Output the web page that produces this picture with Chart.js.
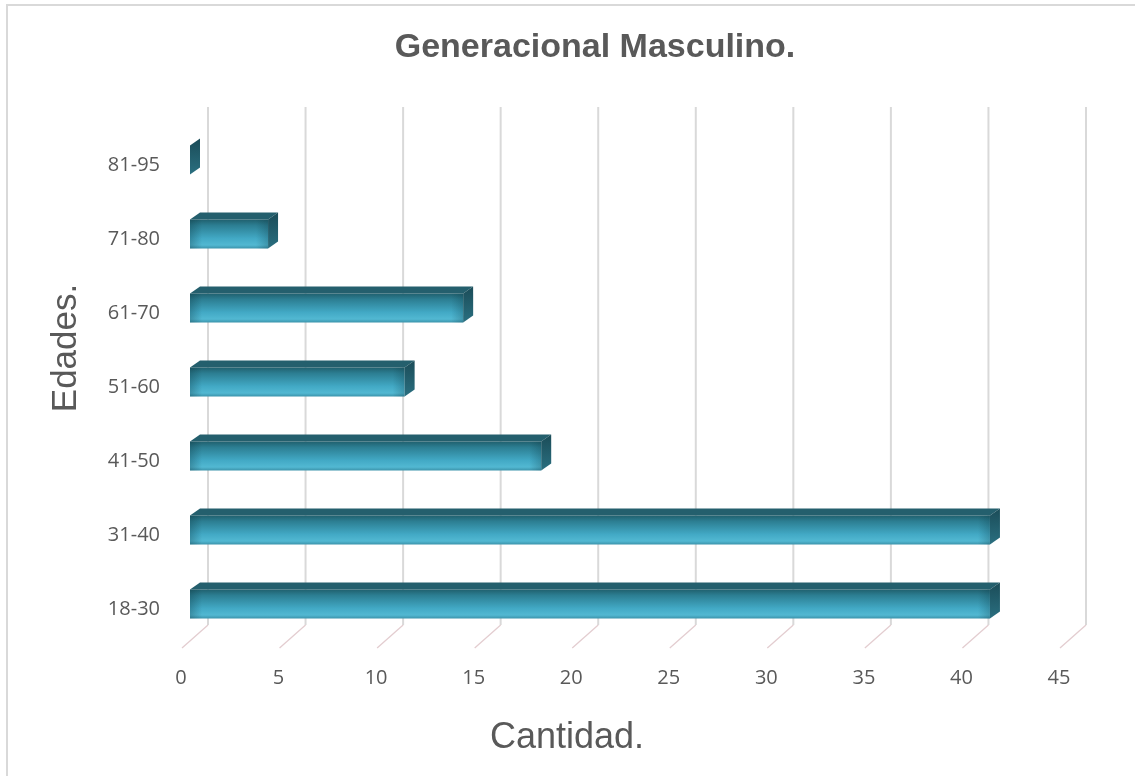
<!DOCTYPE html>
<html>
<head>
<meta charset="utf-8">
<script src="https://cdn.jsdelivr.net/npm/chart.js@4.4.0/dist/chart.umd.min.js"></script>
<style>
    body { margin: 0; background: #fff; overflow: hidden; }
    .marco { position: absolute; left: 6px; top: 4px; width: 1200px; height: 900px; border: 2px solid #d9d9d9; }
    .container { position: absolute; left: 0; top: 0; width: 1135px; height: 776px; }
</style>
</head>
<body>
<div class="marco"></div>
<div class="container"><canvas id="edadesChart"></canvas></div>
<script>
// Datos del gráfico
const edades = ['18-30', '31-40', '41-50', '51-60', '61-70', '71-80', '81-95'];
const cantidades = [41, 41, 18, 11, 14, 4, 0];
const ticksCantidad = [0, 5, 10, 15, 20, 25, 30, 35, 40, 45];

// Profundidad del efecto 3D
const PROF_X = 10, PROF_Y = 7;
const PISO_X = 26, PISO_Y = 23, FONDO_X = 18;

// Plugin: líneas de fondo, barras 3D y títulos
const fondo3D = {
    id: 'fondo3D',
    beforeDatasetsDraw(chart) {
        const ctx = chart.ctx;
        const x = chart.scales.x;
        const area = chart.chartArea;
        const yTop = 107, yPiso = area.bottom - 16;
        ctx.save();
        ticksCantidad.forEach(v => {
            const px = x.getPixelForValue(v) + FONDO_X;
            ctx.strokeStyle = '#d9d9d9';
            ctx.lineWidth = 2;
            ctx.beginPath();
            ctx.moveTo(px, yTop);
            ctx.lineTo(px, yPiso);
            ctx.stroke();
            ctx.strokeStyle = '#e3cdd0';
            ctx.lineWidth = 1.3;
            ctx.beginPath();
            ctx.moveTo(px, yPiso);
            ctx.lineTo(px - PISO_X, yPiso + PISO_Y);
            ctx.stroke();
        });
        ctx.restore();
    },
    afterDatasetsDraw(chart) {
        const ctx = chart.ctx;
        const meta = chart.getDatasetMeta(0);
        ctx.save();
        meta.data.forEach(bar => {
            const { x, y, base, height } = bar.getProps(['x', 'y', 'base', 'height'], true);
            const top = y - height / 2, bottom = y + height / 2;
            // cara frontal
            if (x > base) {
                const g = ctx.createLinearGradient(0, top, 0, bottom);
                g.addColorStop(0, '#20606e');
                g.addColorStop(0.2, '#2c7e92');
                g.addColorStop(0.65, '#42a9c5');
                g.addColorStop(0.88, '#52b8d2');
                g.addColorStop(1, '#3b93ab');
                ctx.fillStyle = g;
                ctx.fillRect(base, top, x - base, height);
                const h = ctx.createLinearGradient(base, 0, x, 0);
                h.addColorStop(0, 'rgba(10,50,60,0.30)');
                h.addColorStop(Math.min(0.5, 12 / (x - base)), 'rgba(10,50,60,0)');
                h.addColorStop(Math.max(0.5, 1 - 12 / (x - base)), 'rgba(10,50,60,0)');
                h.addColorStop(1, 'rgba(10,50,60,0.25)');
                ctx.fillStyle = h;
                ctx.fillRect(base, top, x - base, height);
            }
            // cara superior
            ctx.fillStyle = '#245f6d';
            ctx.beginPath();
            ctx.moveTo(base, top);
            ctx.lineTo(base + PROF_X, top - PROF_Y);
            ctx.lineTo(x + PROF_X, top - PROF_Y);
            ctx.lineTo(x, top);
            ctx.closePath();
            ctx.fill();
            // extremo
            const c = ctx.createLinearGradient(0, top - PROF_Y, 0, bottom);
            c.addColorStop(0, '#1b4c58');
            c.addColorStop(1, '#2a6f80');
            ctx.fillStyle = c;
            ctx.beginPath();
            ctx.moveTo(x, top);
            ctx.lineTo(x + PROF_X, top - PROF_Y);
            ctx.lineTo(x + PROF_X, bottom - PROF_Y);
            ctx.lineTo(x, bottom);
            ctx.closePath();
            ctx.fill();
        });
        ctx.restore();
    },
    afterDraw(chart) {
        const ctx = chart.ctx;
        ctx.save();
        ctx.fillStyle = '#595959';
        ctx.textAlign = 'center';
        ctx.textBaseline = 'middle';
        ctx.font = 'bold 34px "Liberation Sans", Arial, sans-serif';
        ctx.fillText('Generacional Masculino.', 595, 48);
        ctx.font = '36px "Liberation Sans", Arial, sans-serif';
        ctx.fillText('Cantidad.', 567, 738);
        ctx.translate(66, 348);
        ctx.rotate(-Math.PI / 2);
        ctx.font = '35px "Liberation Sans", Arial, sans-serif';
        ctx.fillText('Edades.', 0, 0);
        ctx.restore();
    }
};

new Chart(document.getElementById('edadesChart'), {
    type: 'bar',
    data: {
        labels: edades,
        datasets: [{
            label: 'Cantidad',
            data: cantidades,
            backgroundColor: 'rgba(0,0,0,0)',
            barThickness: 29
        }]
    },
    options: {
        indexAxis: 'y',
        responsive: true,
        maintainAspectRatio: false,
        animation: false,
        layout: { padding: { left: 0, right: 67, top: 123, bottom: 0 } },
        scales: {
            x: {
                min: 0,
                max: 45,
                afterFit: s => { s.height = 135; },
                afterBuildTicks: s => { s.ticks = ticksCantidad.map(v => ({ value: v })); },
                grid: { display: false },
                border: { display: false },
                ticks: {
                    color: '#595959',
                    font: { family: '"Open Sans", sans-serif', size: 20 },
                    padding: 17,
                    labelOffset: -9
                }
            },
            y: {
                reverse: true,
                afterFit: s => { s.width = 190; },
                grid: { display: false },
                border: { display: false },
                ticks: {
                    color: '#595959',
                    font: { family: '"Open Sans", sans-serif', size: 20 },
                    padding: 22,
                    labelOffset: 5
                }
            }
        },
        plugins: {
            legend: { display: false },
            tooltip: { enabled: false },
            title: { display: false }
        }
    },
    plugins: [fondo3D]
});
</script>
</body>
</html>
